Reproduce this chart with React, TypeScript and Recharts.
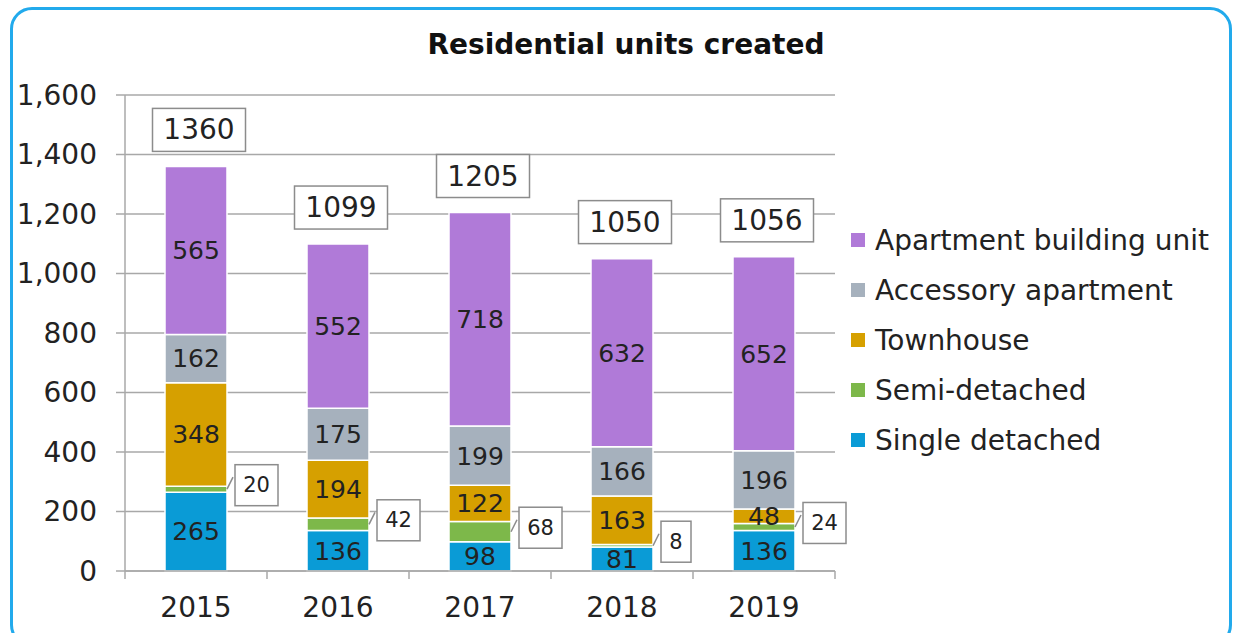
import { BarChart, Bar, XAxis, YAxis, CartesianGrid, LabelList } from 'recharts';

const years = ['2015', '2016', '2017', '2018', '2019'];
const singleDetached = [265, 136, 98, 81, 136];
const semiDetached = [20, 42, 68, 8, 24];
const townhouse = [348, 194, 122, 163, 48];
const accessoryApartment = [162, 175, 199, 166, 196];
const apartmentBuilding = [565, 552, 718, 632, 652];
const totals = [1360, 1099, 1205, 1050, 1056];
const yTicks = [0, 200, 400, 600, 800, 1000, 1200, 1400, 1600];

const series = [
    { key: 'single', name: 'Single detached', color: '#0a9bd6' },
    { key: 'semi', name: 'Semi-detached', color: '#7db84a' },
    { key: 'town', name: 'Townhouse', color: '#d6a000' },
    { key: 'accessory', name: 'Accessory apartment', color: '#a6b1bd' },
    { key: 'apartment', name: 'Apartment building unit', color: '#b07ad8' }
];

const data = years.map((year, i) => ({
    year,
    single: singleDetached[i],
    semi: semiDetached[i],
    town: townhouse[i],
    accessory: accessoryApartment[i],
    apartment: apartmentBuilding[i],
    total: totals[i]
}));

const textColor = '#222';
const gridColor = '#a8a8a8';
const bandWidth = 142;

const TotalLabel = (props: any) => {
    const { x, y, width, value } = props;
    const cx = x + width / 2 + 3;
    const w = 93;
    const h = 43;
    const bottom = y - 15;
    return (
        <g>
            <rect x={cx - w / 2} y={bottom - h} width={w} height={h} fill='#fff' stroke='#8c8c8c' strokeWidth={1.5} />
            <text x={cx} y={bottom - h / 2} textAnchor='middle' dominantBaseline='central' fontSize={28} fill={textColor}>
                {value}
            </text>
        </g>
    );
};

const SemiLabel = (props: any) => {
    const { x, y, width, height, value } = props;
    const right = x + width;
    const cy = y + height / 2;
    const text = String(value);
    const w = text.length * 13 + 17;
    const h = 41;
    const bx = right + 8;
    const by = cy - 4 - h / 2;
    return (
        <g>
            <line x1={right} y1={cy} x2={right + 6} y2={cy - 12} stroke='#8c8c8c' strokeWidth={1.5} />
            <rect x={bx} y={by} width={w} height={h} fill='#fff' stroke='#8c8c8c' strokeWidth={1.5} />
            <text x={bx + w / 2} y={by + h / 2} textAnchor='middle' dominantBaseline='central' fontSize={21} fill={textColor}>
                {text}
            </text>
        </g>
    );
};

const YearTick = (props: any) => {
    const { x, y, payload, index } = props;
    return (
        <g>
            <line x1={x - bandWidth / 2} y1={571} x2={x - bandWidth / 2} y2={579} stroke={gridColor} strokeWidth={1.5} />
            {index === years.length - 1 && (
                <line x1={x + bandWidth / 2} y1={571} x2={x + bandWidth / 2} y2={579} stroke={gridColor} strokeWidth={1.5} />
            )}
            <text x={x} y={y + 38} textAnchor='middle' fontSize={28} fill={textColor}>
                {payload.value}
            </text>
        </g>
    );
};

const ChartLegend = () => (
    <div style={{ position: 'absolute', left: 851, top: 215 }}>
        {[...series].reverse().map((s) => (
            <div key={s.key} style={{ display: 'flex', alignItems: 'center', height: 50 }}>
                <div style={{ width: 14, height: 14, background: s.color, marginRight: 10 }} />
                <span style={{ fontSize: 28, color: textColor, whiteSpace: 'nowrap' }}>{s.name}</span>
            </div>
        ))}
    </div>
);

const App = () => {
    return (
        <div style={{ position: 'absolute', left: 0, top: 0, width: 1236, height: 633, overflow: 'hidden', fontFamily: 'DejaVu Sans', background: '#fff' }}>
            <div style={{ position: 'absolute', left: 10, top: 7, width: 1222, height: 640, border: '3px solid #22aaec', borderRadius: 22, boxSizing: 'border-box' }} />
            <div style={{ position: 'absolute', left: 0, top: 28, width: 1252, textAlign: 'center', fontSize: 28, fontWeight: 'bold', color: '#111' }}>
                Residential units created
            </div>
            <div style={{ position: 'absolute', left: 0, top: 0 }}>
                <BarChart width={1236} height={633} data={data} margin={{ top: 95, right: 401, bottom: 0, left: 0 }}>
                    <CartesianGrid vertical={false} stroke={gridColor} strokeWidth={1.5} />
                    <XAxis
                        dataKey='year'
                        height={62}
                        stroke={gridColor}
                        strokeWidth={1.5}
                        tickLine={false}
                        tick={<YearTick />}
                        interval={0}
                    />
                    <YAxis
                        width={125}
                        domain={[0, 1600]}
                        ticks={yTicks}
                        interval={0}
                        stroke={gridColor}
                        strokeWidth={1.5}
                        tickSize={9}
                        tickMargin={19}
                        tick={{ fontSize: 28, fill: textColor }}
                        tickFormatter={(v: number) => v.toLocaleString('en-US')}
                    />
                    {series.map((s) => (
                        <Bar
                            key={s.key}
                            dataKey={s.key}
                            name={s.name}
                            stackId='units'
                            fill={s.color}
                            stroke='#ffffff'
                            strokeWidth={1.5}
                            barSize={62}
                            isAnimationActive={false}
                        >
                            {s.key === 'semi' ? (
                                <LabelList dataKey='semi' content={<SemiLabel />} />
                            ) : (
                                <LabelList dataKey={s.key} position='center' fontSize={25} fill={textColor} />
                            )}
                            {s.key === 'apartment' && <LabelList dataKey='total' content={<TotalLabel />} />}
                        </Bar>
                    ))}
                </BarChart>
            </div>
            <ChartLegend />
        </div>
    );
};

export default App;
